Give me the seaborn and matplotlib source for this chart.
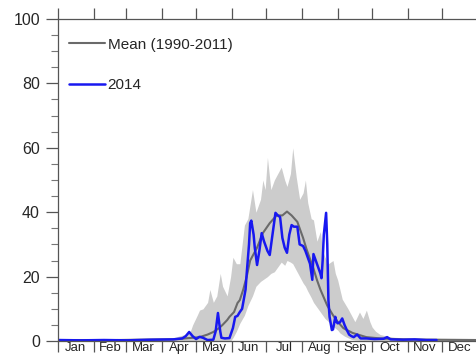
import numpy as np
import pandas as pd
import matplotlib
matplotlib.use("Agg")
import matplotlib.pyplot as plt
import seaborn as sns

sns.set_style("ticks")
plt.rcParams['font.family'] = ['Liberation Sans', 'DejaVu Sans']

# month boundaries (day of year) and labels
month_edges = [0, 31, 59, 90, 120, 151, 181, 212, 243, 273, 304, 334, 365]
month_names = ["Jan", "Feb", "Mar", "Apr", "May", "Jun", "Jul", "Aug", "Sep", "Oct", "Nov", "Dec"]

# 2014 daily values
days_2014 = [0, 20, 40, 60, 80, 100, 108, 111, 114, 117, 120, 123, 126, 130, 135, 137, 139, 141,
             142, 145, 149, 152, 154, 156, 158, 160, 161, 163, 164, 166, 167, 168, 170, 171, 173,
             175, 177, 179, 182, 184, 186, 189, 191, 193, 195, 197, 199, 201, 203, 205, 208, 210,
             213, 215, 217, 219, 221, 222, 224, 226, 228, 229, 230, 231, 233, 234, 235, 236, 238,
             239, 241, 242, 243, 245, 247, 249, 251, 253, 255, 257, 260, 263, 268, 275, 283, 286,
             289, 300, 310, 320, 329]
vals_2014 = [0.3, 0.2, 0.3, 0.2, 0.4, 0.5, 0.8, 1.5, 2.8, 1.5, 0.6, 1.3, 1.0, 0.3, 0.4, 3, 8.7, 3,
             1, 0.8, 0.9, 4, 7.5, 7.8, 9, 10, 12, 16, 21, 30, 36.6, 37.4, 33, 29, 23.6,
             28, 33.5, 31, 28, 26.7, 32, 39.8, 39, 38.5, 32, 29, 27.4, 33, 36, 35.5, 35.5, 30,
             29.5, 28, 26, 24, 19, 27, 25, 23, 21, 19.5, 25, 33, 39.8, 30, 12.7, 7.5, 3.4,
             3.6, 7.5, 6, 5.5, 5.8, 7, 5, 3.4, 2, 1.5, 1.2, 2, 0.8, 0.8, 0.6, 0.7, 1.2,
             0.5, 0.4, 0.5, 0.3, 0.3]

# 1990-2011 mean
days_mean = [0, 50, 100, 110, 117, 123, 130, 135, 140, 143, 147, 149, 153, 156, 158, 161, 164, 167,
             170, 173, 178, 184, 190, 195, 199, 203, 208, 210, 213, 216, 222, 225, 228, 234, 239,
             243, 248, 256, 268, 280, 300, 330, 365]
vals_mean = [0.3, 0.3, 0.5, 0.8, 1, 1.2, 2, 2.8, 4, 5, 6.5, 7.5, 9, 11.8, 12.7, 16, 20, 25,
             27, 29, 33.5, 36.6, 39, 39, 40.2, 39, 37, 35, 32, 28.5, 22.5, 19, 16, 11, 8,
             6, 4, 2.5, 1.2, 0.8, 0.5, 0.4, 0.3]

# min / max range of 1990-2011
band_days = [0, 100, 110, 115, 117, 121, 123, 126, 130, 132, 135, 138, 141, 143, 147, 150, 152, 155,
             158, 162, 165, 169, 172, 176, 178, 180, 182, 185, 188, 191, 194, 197, 199, 202, 204,
             207, 210, 213, 215, 217, 220, 222, 225, 228, 230, 232, 235, 239, 241, 243, 245, 247,
             249, 252, 255, 258, 262, 265, 268, 271, 273, 276, 280, 290, 310, 365]
band_hi = [0.5, 1, 2, 3, 5, 8, 9.6, 10, 12, 16, 12, 14, 21, 17, 14, 20, 26, 24,
           24, 36, 38, 47, 40, 44, 50, 47, 57, 47, 50, 52, 54, 50, 48, 52, 60,
           51, 44, 46, 50, 43, 38, 37.6, 31, 34, 28, 26, 24, 25, 21, 19, 16, 13,
           11.8, 10, 8, 6, 9, 7, 9.6, 6, 4.3, 3, 2, 1.2, 0.8, 0.6]
band_lo = [0, 0, 0, 0, 0, 0, 0, 0, 0, 0, 0, 0, 0, 0, 0, 0, 1, 3,
           5.5, 8, 11, 14, 17, 18.5, 19, 19.5, 20, 21, 21.5, 23, 24.5, 23.5, 25, 24.5, 24,
           22, 20, 18, 17, 15.5, 13.5, 12, 10.5, 9, 8, 7, 6, 4.5, 4, 3.4, 2.5, 2,
           1.5, 1, 0.5, 0.3, 0.2, 0.2, 0.1, 0, 0, 0, 0, 0, 0, 0]

df_2014 = pd.DataFrame({"day": days_2014, "value": vals_2014})
df_mean = pd.DataFrame({"day": days_mean, "value": vals_mean})

fig = plt.figure(figsize=(4.76, 3.56), dpi=100)
ax = fig.add_axes([58 / 476, 15 / 356, 420 / 476, 322 / 356])

ax.fill_between(band_days, band_lo, band_hi, color="#cccccc", lw=0)
sns.lineplot(data=df_mean, x="day", y="value", ax=ax, color="#6a6a6a", lw=1.5,
             label="Mean (1990-2011)")
sns.lineplot(data=df_2014, x="day", y="value", ax=ax, color="#1818f0", lw=1.8,
             label="2014")

ax.set_xlim(0, 365)
ax.set_ylim(0, 100)
ax.set_xlabel("")
ax.set_ylabel("")

# month boundaries as ticks, labels in the middle of each month
ax.set_xticks(month_edges)
ax.set_xticklabels([])
mids = [(a + b) / 2 for a, b in zip(month_edges[:-1], month_edges[1:])]
ax.set_xticks(mids, minor=True)
ax.set_xticklabels(month_names, minor=True, fontsize=9.5)
ax.tick_params(axis="x", which="major", direction="out", length=8, width=0.9,
               top=True, bottom=True, color="#555555")
ax.tick_params(axis="x", which="minor", length=0, pad=1)

ax.set_yticks([0, 20, 40, 60, 80, 100])
ax.set_yticks(np.arange(0, 101, 5), minor=True)
ax.tick_params(axis="y", which="major", direction="out", length=9, width=0.9,
               labelsize=11.5, color="#555555", pad=4)
ax.tick_params(axis="y", which="minor", direction="out", length=5, width=0.8,
               color="#777777")

for s in ["left", "top", "bottom"]:
    ax.spines[s].set_visible(True)
    ax.spines[s].set_color("#555555")
    ax.spines[s].set_linewidth(0.9)
ax.spines["right"].set_visible(False)

leg = ax.legend(loc="upper left", bbox_to_anchor=(0.0, 0.975), frameon=False, fontsize=11,
                handlelength=2.4, handletextpad=0.15, labelspacing=1.75, borderaxespad=0.3)

fig.savefig("out.png", dpi=100)
